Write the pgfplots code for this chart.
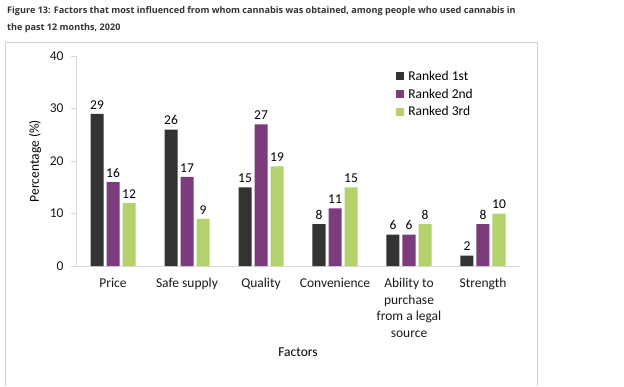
\documentclass[border=0pt]{standalone}
\usepackage{pgfplots}
\pgfplotsset{compat=1.18}
\usepackage{fontspec}
\setmainfont{Carlito}
\newfontfamily\titlefont{Open Sans}
\definecolor{rankA}{HTML}{333333}
\definecolor{rankB}{HTML}{7A3C7D}
\definecolor{rankC}{HTML}{B4D26B}
\definecolor{axgray}{HTML}{D9D9D9}
\definecolor{titlec}{HTML}{333333}
\begin{document}
\begin{tikzpicture}
\path (0pt,0pt) rectangle (624pt,386pt);
\draw[color=black!18, line width=0.8pt] (5pt,0pt) -- (5pt,344pt) -- (537pt,344pt) -- (537pt,0pt);
\node[anchor=north west, align=left, inner sep=0pt, font=\titlefont\bfseries\fontsize{9.1}{17}\selectfont, text=titlec] at (7pt,380pt)
 {Figure 13: Factors that most influenced from whom cannabis was obtained, among people who used cannabis in\\the past 12 months, 2020};
\begin{axis}[
  at={(76pt,120pt)}, anchor=south west,
  scale only axis, width=444pt, height=210pt,
  ymin=0, ymax=40, xmin=-0.5, xmax=5.5,
  ybar=3pt, bar width=13pt,
  ytick={0,10,20,30,40},
  xtick={0,1,2,3,4,5},
  xticklabels={Price,Safe supply,Quality,Convenience,{Ability to\\purchase\\from a legal\\source},Strength},
  axis x line*=bottom, axis y line*=left,
  axis line style={axgray, line width=0.8pt},
  x axis line style={-}, y axis line style={-},
  major tick length=5pt,
  ytick style={axgray, line width=0.8pt},
  xtick style={draw=none},
  tick align=outside,
  font=\fontsize{13.5}{16.5}\selectfont,
  ticklabel style={font=\fontsize{13.5}{16.5}\selectfont, text=black!90},
  xticklabel style={align=center, anchor=north, yshift=-4pt},
  yticklabel style={xshift=-4pt},
  /pgf/number format/assume math mode=true,
  ylabel={Percentage (\%)},
  ylabel style={at={(axis description cs:-0.092,0.5)}, anchor=center, rotate=0, font=\fontsize{13.5}{16}\selectfont},
  xlabel={Factors},
  xlabel style={at={(axis description cs:0.5,-0.41)}, anchor=center, font=\fontsize{13.5}{16}\selectfont},
  nodes near coords,
  every node near coord/.append style={font=\fontsize{13.5}{16}\selectfont, text=black, yshift=1pt, /pgf/number format/assume math mode=true},
  legend style={at={(rel axis cs:0.721,0.94)}, anchor=north west, draw=none, fill=none,
    font=\fontsize{13.5}{16}\selectfont, row sep=3pt, inner sep=0pt},
  legend cell align=left,
  legend image code/.code={\fill[#1] (0pt,-4pt) rectangle (8pt,4pt); \path (10pt,0pt);},
]
\addplot[fill=rankA, draw=none] coordinates {(0,29) (1,26) (2,15) (3,8) (4,6) (5,2)};
\addplot[fill=rankB, draw=none] coordinates {(0,16) (1,17) (2,27) (3,11) (4,6) (5,8)};
\addplot[fill=rankC, draw=none] coordinates {(0,12) (1,9) (2,19) (3,15) (4,8) (5,10)};
\legend{Ranked 1st,Ranked 2nd,Ranked 3rd}
\end{axis}
\end{tikzpicture}
\end{document}
